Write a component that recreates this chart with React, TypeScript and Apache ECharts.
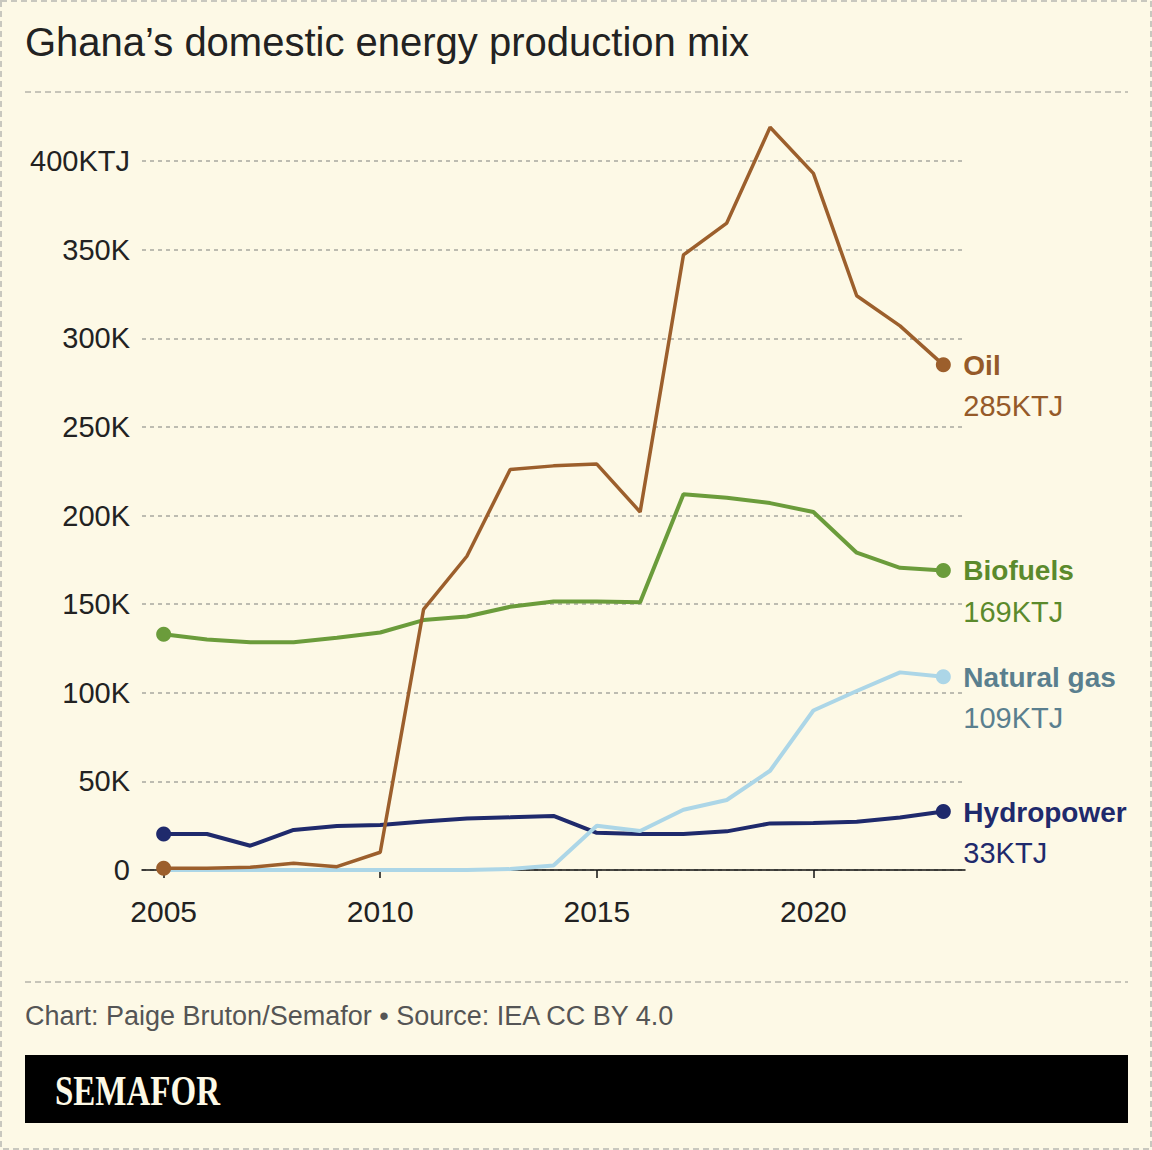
import React, { useEffect, useRef } from "react";
import * as echarts from "echarts";

const years = ["2005","2006","2007","2008","2009","2010","2011","2012","2013","2014","2015","2016","2017","2018","2019","2020","2021","2022","2023"];
const oil = [1, 1, 1.5, 3.8, 1.9, 10, 147, 177, 226, 228, 229, 202, 347, 365, 419, 393, 324, 307, 285];
const biofuels = [133, 130, 128.5, 128.5, 131, 134, 141, 143, 148.5, 151.5, 151.5, 151, 212, 210, 207, 202, 179, 170.5, 169];
const naturalGas = [0, 0, 0, 0, 0, 0, 0, 0, 0.5, 2.5, 25, 22, 34, 39.5, 56, 90, 101, 111.5, 109];
const hydropower = [20.3, 20.3, 13.7, 22.6, 24.8, 25.4, 27.4, 29.1, 29.7, 30.5, 21, 20.3, 20.3, 21.8, 26.3, 26.5, 27.2, 29.6, 33];
const yTicks = [0, 50, 100, 150, 200, 250, 300, 350, 400];

const BG = "#fdf9e6";
const SANS = '"Liberation Sans", Arial, sans-serif';

function buildData(values: number[], startDot: boolean) {
  const last = values.length - 1;
  return values.map((v, i) =>
    (i === 0 && startDot) || i === last ? { value: v, symbol: "circle", symbolSize: 15 } : { value: v, symbol: "none" }
  );
}

function makeSeries(name: string, values: number[], lineColor: string, labelColor: string, startDot: boolean, width: number) {
  return {
    type: "line",
    name,
    data: buildData(values, startDot),
    symbol: "none",
    showSymbol: true,
    showAllSymbol: true,
    clip: false,
    lineStyle: { color: lineColor, width },
    itemStyle: { color: lineColor },
    emphasis: { disabled: true },
    endLabel: {
      show: true,
      distance: 20,
      offset: [0, 21],
      formatter: (p: any) => `{n|${name}}\n{v|${Math.round(Number(p.value))}KTJ}`,
      rich: {
        n: { fontFamily: SANS, fontWeight: "bold", fontSize: 28, color: labelColor, lineHeight: 41 },
        v: { fontFamily: SANS, fontSize: 29, color: labelColor, lineHeight: 41 },
      },
    },
  };
}

export default function App() {
  const ref = useRef<HTMLDivElement>(null);
  useEffect(() => {
    document.body.style.margin = "0";
    if (!ref.current) return;
    const chart = echarts.init(ref.current, null, { renderer: "svg" });
    chart.setOption({
      animation: false,
      backgroundColor: BG,
      grid: { left: 142, right: 187, top: 161, bottom: 280, containLabel: false },
      xAxis: {
        type: "category",
        data: years,
        boundaryGap: true,
        axisLine: { show: true, lineStyle: { color: "#111", width: 1.5 } },
        axisTick: { show: true, interval: 4, alignWithLabel: true, length: 8, lineStyle: { color: "#111", width: 1.5 } },
        axisLabel: { interval: 4, margin: 26, fontFamily: SANS, fontSize: 30, color: "#222" },
        splitLine: { show: false },
      },
      yAxis: {
        type: "value",
        min: 0,
        max: 400,
        interval: 50,
        axisLine: { show: false },
        axisTick: { show: false },
        axisLabel: {
          margin: 12,
          fontFamily: SANS,
          fontSize: 29,
          color: "#222",
          formatter: (v: number) => (v === 0 ? "0" : v === yTicks[yTicks.length - 1] ? `${v}KTJ` : `${v}K`),
        },
        splitLine: { show: true, lineStyle: { color: "#a8a8a0", width: 1.5, type: [4, 4] } },
      },
      series: [
        makeSeries("Hydropower", hydropower, "#1f2a6c", "#1f2a6c", true, 4),
        makeSeries("Natural gas", naturalGas, "#acd6e7", "#5a7f8e", false, 4),
        makeSeries("Biofuels", biofuels, "#6b9c3b", "#5b8a2c", true, 4),
        makeSeries("Oil", oil, "#9c5f2c", "#955a29", true, 3.5),
      ],
      graphic: [
        { type: "rect", shape: { x: 1, y: 1, width: 1150, height: 1148 }, style: { fill: "none", stroke: "#c9c8bf", lineWidth: 2, lineDash: [6, 4] }, silent: true },
        { type: "text", x: 25, y: 42, style: { text: "Ghana\u2019s domestic energy production mix", fontFamily: SANS, fontSize: 40, fill: "#222", textVerticalAlign: "middle" } },
        { type: "line", shape: { x1: 25, y1: 92, x2: 1128, y2: 92 }, style: { stroke: "#b5b4ab", lineWidth: 1.5, lineDash: [6, 4] } },
        { type: "line", shape: { x1: 25, y1: 982, x2: 1128, y2: 982 }, style: { stroke: "#b5b4ab", lineWidth: 1.5, lineDash: [6, 4] } },
        { type: "text", x: 25, y: 1016, style: { text: "Chart: Paige Bruton/Semafor \u2022 Source: IEA CC BY 4.0", fontFamily: SANS, fontSize: 27, fill: "#555", textVerticalAlign: "middle" } },
        { type: "rect", shape: { x: 25, y: 1055, width: 1103, height: 68 }, style: { fill: "#000" } },
        { type: "text", x: 55, y: 1090, scaleY: 1.3, style: { text: "SEMAFOR", fontFamily: '"Liberation Serif", serif', fontWeight: "bold", fontSize: 33, fill: BG, textVerticalAlign: "middle" } },
      ],
    });
    return () => chart.dispose();
  }, []);
  return <div ref={ref} style={{ width: 1152, height: 1150 }} />;
}
